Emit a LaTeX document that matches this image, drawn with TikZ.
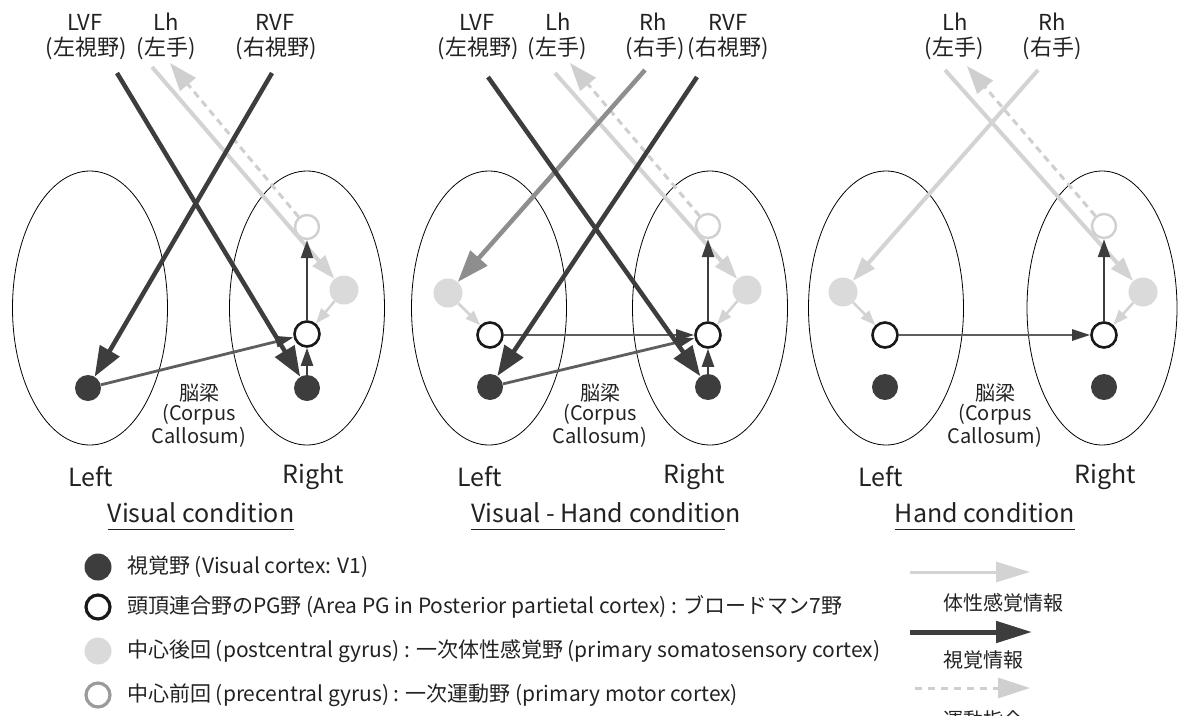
\documentclass[tikz,border=0pt]{standalone}
\usepackage{fontspec}
\setmainfont{Noto Sans CJK JP}
\usetikzlibrary{arrows.meta,shapes.geometric}
\definecolor{vdark}{HTML}{3D3D3D}
\definecolor{calc}{HTML}{5E5E5E}
\definecolor{soma}{HTML}{D3D3D3}
\definecolor{somafill}{HTML}{DADADA}
\definecolor{motc}{HTML}{CFCFCF}
\definecolor{prec}{HTML}{D0D0D0}
\definecolor{rhc}{HTML}{8E8E8E}
\definecolor{legpre}{HTML}{9A9A9A}
\definecolor{txt}{HTML}{222222}
\begin{document}
\begin{tikzpicture}[x=1pt,y=-1pt,
  hemi/.style={ellipse, draw=black, line width=0.8pt, inner sep=0pt, minimum width=155pt, minimum height=274pt},
  vone/.style={circle, fill=vdark, inner sep=0pt, minimum size=26pt},
  pgc/.style={circle, draw=black!90, line width=2.6pt, fill=white, inner sep=0pt, minimum size=25pt},
  postc/.style={circle, fill=somafill, inner sep=0pt, minimum size=29pt},
  prec/.style={circle, draw=prec, line width=2.4pt, fill=white, inner sep=0pt, minimum size=24pt},
  visarr/.style={draw=vdark, line width=4.5pt, -{Triangle[length=30pt,width=22pt]}},
  calarr/.style={draw=calc, line width=2.8pt, -{Triangle[length=18pt,width=11pt,color=vdark]}},
  intarr/.style={draw=vdark, line width=2.4pt, -{Triangle[length=18pt,width=12pt]}},
  somarr/.style={draw=soma, line width=4pt, -{Triangle[length=24pt,width=16pt]}},
  somshort/.style={draw=soma, line width=2.5pt, -{Triangle[length=15pt,width=11pt]}},
  motarr/.style={draw=motc, line width=3pt, dash pattern=on 7pt off 5pt, -{Triangle[length=28pt,width=20pt]}},
  rharr/.style={draw=rhc, line width=4.5pt, -{Triangle[length=32pt,width=22pt]}},
  toplab/.style={font=\fontsize{22}{26}\selectfont, inner sep=0pt, text=txt},
  cclab/.style={font=\fontsize{20}{24}\selectfont, inner sep=0pt, text=txt},
  lrlab/.style={font=\fontsize{25}{30}\selectfont, inner sep=0pt, text=txt},
  leglab/.style={font=\fontsize{21}{25}\selectfont, inner sep=0pt, anchor=west, text=txt},
  legr/.style={font=\fontsize{20}{24}\selectfont, inner sep=0pt, anchor=west, text=txt},
  uline/.style={draw=txt, line width=1.2pt}
]
\useasboundingbox (0,0) rectangle (1178,715);
\clip (0,0) rectangle (1178,715);

% ---------------- Panel 1: Visual condition ----------------
\node[hemi] (hL1) at (90,308) {};
\node[hemi] (hR1) at (307,308) {};
\node[vone] (v1L1) at (88,388) {};
\node[vone] (v1R1) at (307,388) {};
\node[pgc] (pgR1) at (307,334) {};
\node[prec] (preR1) at (307,227) {};
\node[postc] (postR1) at (344,290) {};
\coordinate (lvf1) at (117,73);
\coordinate (rvf1) at (272,73);
\coordinate (lh1) at (152,67);
\coordinate (mot1) at (170,63);
\draw[somarr] (lh1) -- (postR1);
\draw[motarr] (preR1) -- (mot1);
\draw[somshort] (postR1) -- (pgR1);
\draw[intarr] (pgR1) -- (preR1);
\draw[intarr] (v1R1) -- (pgR1);
\draw[calarr] (v1L1) -- (pgR1);
\draw[visarr] (lvf1) -- (v1R1);
\draw[visarr] (rvf1) -- (v1L1);
\node[toplab] (t1a) at (85,22) {LVF};
\node[toplab] (t1b) at (86,48) {(左視野)};
\node[toplab] (t1c) at (166,22) {Lh};
\node[toplab] (t1d) at (166,48) {(左手)};
\node[toplab] (t1e) at (275,22) {RVF};
\node[toplab] (t1f) at (276,48) {(右視野)};
\node[cclab] (cc1a) at (199,393) {脳梁};
\node[cclab] (cc1b) at (199,415) {(Corpus};
\node[cclab] (cc1c) at (199,437) {Callosum)};
\node[lrlab] (lf1) at (91,477) {Left};
\node[lrlab] (rt1) at (313,477) {Right};
\node[lrlab] (ti1) at (201,513) {Visual condition};
\draw[uline] ([yshift=-7pt]ti1.base west) -- ([yshift=-7pt]ti1.base east);

% ---------------- Panel 2: Visual - Hand condition ----------------
\node[hemi] (hL2) at (489,308) {};
\node[hemi] (hR2) at (710,308) {};
\node[postc] (postL2) at (448,293) {};
\node[pgc] (pgL2) at (490,335) {};
\node[vone] (v1L2) at (490,387) {};
\node[pgc] (pgR2) at (708,335) {};
\node[vone] (v1R2) at (708,387) {};
\node[postc] (postR2) at (747,290) {};
\node[prec] (preR2) at (708,226) {};
\coordinate (lvf2) at (488,77);
\coordinate (rvf2) at (697,77);
\coordinate (rh2) at (645,70);
\coordinate (lh2) at (555,73);
\coordinate (mot2) at (570,63);
\draw[somarr] (lh2) -- (postR2);
\draw[motarr] (preR2) -- (mot2);
\draw[somshort] (postR2) -- (pgR2);
\draw[somshort] (postL2) -- (pgL2);
\draw[rharr] (rh2) -- (postL2);
\draw[intarr] (pgR2) -- (preR2);
\draw[intarr] (v1R2) -- (pgR2);
\draw[calarr] (pgL2.east) -- (pgR2);
\draw[calarr] (v1L2) -- (pgR2);
\draw[visarr] (lvf2) -- (v1R2);
\draw[visarr] (rvf2) -- (v1L2);
\node[toplab] (t2a) at (477,22) {LVF};
\node[toplab] (t2b) at (478,48) {(左視野)};
\node[toplab] (t2c) at (558,22) {Lh};
\node[toplab] (t2d) at (557,48) {(左手)};
\node[toplab] (t2e) at (653,22) {Rh};
\node[toplab] (t2f) at (655,48) {(右手)};
\node[toplab] (t2g) at (728,22) {RVF};
\node[toplab] (t2h) at (728,48) {(右視野)};
\node[cclab] (cc2a) at (600,393) {脳梁};
\node[cclab] (cc2b) at (600,415) {(Corpus};
\node[cclab] (cc2c) at (600,437) {Callosum)};
\node[lrlab] (lf2) at (480,477) {Left};
\node[lrlab] (rt2) at (694,477) {Right};
\node[lrlab] (ti2) at (606,513) {Visual - Hand condition};
\draw[uline] ([yshift=-7pt]ti2.base west) -- ([yshift=-7pt,xshift=-16pt]ti2.base east);

% ---------------- Panel 3: Hand condition ----------------
\node[hemi] (hL3) at (886,308) {};
\node[hemi, minimum width=150pt] (hR3) at (1102,308) {};
\node[postc] (postL3) at (843,292) {};
\node[pgc] (pgL3) at (885,335) {};
\node[vone] (v1L3) at (885,387) {};
\node[pgc] (pgR3) at (1104,335) {};
\node[vone] (v1R3) at (1104,387) {};
\node[postc] (postR3) at (1143,292) {};
\node[prec] (preR3) at (1104,226) {};
\coordinate (lh3) at (945,70);
\coordinate (rh3) at (1038,70);
\coordinate (mot3) at (967,66);
\draw[somarr] (lh3) -- (postR3);
\draw[somarr] (rh3) -- (postL3);
\draw[motarr] (preR3) -- (mot3);
\draw[somshort] (postR3) -- (pgR3);
\draw[somshort] (postL3) -- (pgL3);
\draw[intarr] (pgR3) -- (preR3);
\draw[calarr] (pgL3) -- (pgR3);
\node[toplab] (t3a) at (955,22) {Lh};
\node[toplab] (t3b) at (954,48) {(左手)};
\node[toplab] (t3c) at (1052,22) {Rh};
\node[toplab] (t3d) at (1052,48) {(右手)};
\node[cclab] (cc3a) at (995,393) {脳梁};
\node[cclab] (cc3b) at (995,415) {(Corpus};
\node[cclab] (cc3c) at (995,437) {Callosum)};
\node[lrlab] (lf3) at (881,477) {Left};
\node[lrlab] (rt3) at (1105,477) {Right};
\node[lrlab] (ti3) at (985,513) {Hand condition};
\draw[uline] ([yshift=-7pt]ti3.base west) -- ([yshift=-7pt]ti3.base east);

% ---------------- Legend (left) ----------------
\node[circle, fill=vdark, inner sep=0pt, minimum size=27pt] (lg1) at (98,567) {};
\node[circle, draw=black!90, line width=3.2pt, fill=white, inner sep=0pt, minimum size=24pt] (lg2) at (98,607) {};
\node[circle, fill=somafill, inner sep=0pt, minimum size=27pt] (lg3) at (98,651) {};
\node[circle, draw=legpre, line width=3.2pt, fill=white, inner sep=0pt, minimum size=24pt] (lg4) at (98,695) {};
\node[leglab] (lt1) at (127,567) {視覚野 (Visual cortex: V1)};
\node[leglab] (lt2) at (127,607) {頭頂連合野のPG野 (Area PG in Posterior partietal cortex) : ブロードマン7野};
\node[leglab] (lt3) at (127,651) {中心後回 (postcentral gyrus) : 一次体性感覚野 (primary somatosensory cortex)};
\node[leglab] (lt4) at (127,695) {中心前回 (precentral gyrus) : 一次運動野 (primary motor cortex)};

% ---------------- Legend (right) ----------------
\coordinate (ls1a) at (910,572);
\coordinate (ls1b) at (1030,572);
\coordinate (ls2a) at (910,632);
\coordinate (ls2b) at (1032,632);
\coordinate (ls3a) at (915,688);
\coordinate (ls3b) at (1030,688);
\draw[draw=soma, line width=3pt, -{Triangle[length=34pt,width=20pt]}] (ls1a) -- (ls1b);
\draw[draw=vdark, line width=5pt, -{Triangle[length=36pt,width=21pt]}] (ls2a) -- (ls2b);
\draw[draw=motc, line width=3pt, dash pattern=on 7pt off 6pt, -{Triangle[length=32pt,width=20pt]}] (ls3a) -- (ls3b);
\node[legr] (lr1) at (943,603) {体性感覚情報};
\node[legr] (lr2) at (943,660) {視覚情報};
\node[legr] (lr3) at (943,720) {運動指令};
\end{tikzpicture}
\end{document}
